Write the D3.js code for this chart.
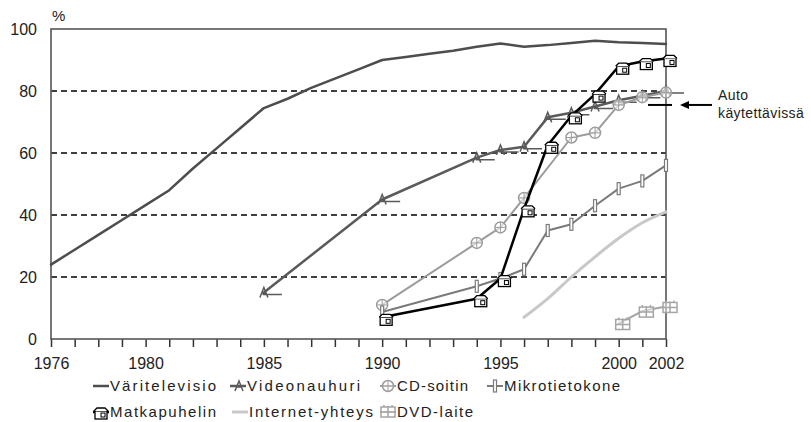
<!DOCTYPE html>
<html>
<head>
<meta charset="utf-8">
<title>Kestokulutustavarat kotitalouksissa</title>
<script src="https://cdn.jsdelivr.net/npm/d3@7"></script>
<style>
body { margin: 0; background: #fff; }
svg { font-family: "Liberation Sans", Arial, sans-serif; }
.grid line { stroke: #000; stroke-width: 1.3; stroke-dasharray: 6,4; }
.series { fill: none; stroke-linejoin: round; stroke-linecap: round; }
.axis text { fill: #222; font-size: 16px; }
.legend text { fill: #222; font-size: 15px; }
</style>
</head>
<body>
<div id="chart"></div>
<script>
// data (% of households)
var xLabelYears = [1976, 1980, 1985, 1990, 1995, 2000, 2002];
var yTicks = [0, 20, 40, 60, 80, 100];

var tvYears = d3.range(1976, 2003);
var tvValues = [24, 28.8, 33.6, 38.4, 43.2, 48, 55, 61.5, 68, 74.5, 77.5, 81, 84, 87, 90, 91, 92, 93, 94.3, 95.3, 94.3, 94.8, 95.5, 96.2, 95.7, 95.5, 95.2];
var videoYears = [1985, 1990, 1994, 1995, 1996, 1997, 1998, 1999, 2000, 2001, 2002];
var videoValues = [15, 45, 58.5, 61, 62, 71.5, 73, 75, 77, 78.5, 80];
var cdYears = [1990, 1994, 1995, 1996, 1998, 1999, 2000, 2001, 2002];
var cdValues = [11, 31, 36, 45.5, 65, 66.5, 75.5, 78, 79.5];
var pcYears = [1990, 1994, 1995, 1996, 1997, 1998, 1999, 2000, 2001, 2002];
var pcValues = [8.7, 17, 19.5, 22.5, 35, 37, 43, 48.5, 51, 56];
var mobileYears = [1990, 1994, 1995, 1996, 1997, 1998, 1999, 2000, 2001, 2002];
var mobileValues = [7, 13, 19.5, 42, 62.5, 72, 79, 88, 89.5, 90.5];
var netYears = [1996, 1997, 1998, 1999, 2000, 2001, 2002];
var netValues = [7, 13, 20, 26.5, 32.5, 37.5, 41];
var dvdYears = [2000, 2001, 2002];
var dvdValues = [5, 9, 10.5];
var carYear = 2002, carValue = 75.5;
var carLabel = ["Auto", "käytettävissä"];

var seriesNames = ["Väritelevisio", "Videonauhuri", "CD-soitin", "Mikrotietokone", "Matkapuhelin", "Internet-yhteys", "DVD-laite"];

function zip(xs, vs) { return xs.map(function(d, i) { return {year: d, value: vs[i]}; }); }

var series = [
    {name: seriesNames[0], data: zip(tvYears, tvValues), color: "#4d4d4d", width: 2.5, marker: null},
    {name: seriesNames[1], data: zip(videoYears, videoValues), color: "#5a5a5a", width: 2.5, marker: "video"},
    {name: seriesNames[2], data: zip(cdYears, cdValues), color: "#9c9c9c", width: 2, marker: "cd"},
    {name: seriesNames[3], data: zip(pcYears, pcValues), color: "#7a7a7a", width: 2, marker: "pc"},
    {name: seriesNames[4], data: zip(mobileYears, mobileValues), color: "#000", width: 2.5, marker: "mobile"},
    {name: seriesNames[5], data: zip(netYears, netValues), color: "#c8c8c8", width: 3, marker: null, smooth: true},
    {name: seriesNames[6], data: zip(dvdYears, dvdValues), color: "#a5a5a5", width: 2, marker: "dvd"}
];

var W = 811, H = 422;
var plotLeft = 51, plotRight = 666, plotTop = 29, plotBottom = 339;

var x = d3.scaleLinear().domain([1976, 2002]).range([plotLeft, plotRight]);
var y = d3.scaleLinear().domain([0, 100]).range([plotBottom, plotTop]);

var svg = d3.select("#chart").append("svg")
    .attr("width", W).attr("height", H);

// dashed gridlines
svg.append("g").attr("class", "grid")
    .selectAll("line").data(yTicks.filter(function(d) { return d > 0 && d < 100; }))
    .enter().append("line")
    .attr("x1", plotLeft).attr("x2", plotRight)
    .attr("y1", function(d) { return y(d); }).attr("y2", function(d) { return y(d); });

// axes
var xAxis = d3.axisBottom(x)
    .tickValues(d3.range(1976, 2003))
    .tickSize(8).tickPadding(11)
    .tickFormat(function(d) { return xLabelYears.indexOf(d) >= 0 ? d : ""; });
var gx = svg.append("g").attr("class", "axis")
    .attr("transform", "translate(0," + plotBottom + ")").call(xAxis);
gx.select(".domain").remove();
gx.selectAll(".tick line").attr("stroke", "#333").attr("stroke-width", 1.5);

var yAxis = d3.axisLeft(y).tickValues(yTicks).tickSize(0).tickPadding(14);
var gy = svg.append("g").attr("class", "axis")
    .attr("transform", "translate(" + plotLeft + ",0)").call(yAxis);
gy.select(".domain").remove();

svg.append("text").attr("x", 52).attr("y", 21)
    .style("font-size", "15px").attr("fill", "#222").text("%");

// frame
svg.append("rect").attr("x", plotLeft).attr("y", plotTop)
    .attr("width", plotRight - plotLeft).attr("height", plotBottom - plotTop)
    .attr("fill", "none").attr("stroke", "#555").attr("stroke-width", 1.6);

// markers
function drawMarker(g, type, color) {
    if (type === "video") {
        g.append("path").attr("d", "M-4,5 L0,-5 L4,5 M-2,1 L2,1 M-1,2 H18")
            .attr("fill", "none").attr("stroke", color).attr("stroke-width", 1.5);
    } else if (type === "cd") {
        g.append("circle").attr("r", 5.5).attr("fill", "rgba(255,255,255,0.6)")
            .attr("stroke", color).attr("stroke-width", 1.5);
        g.append("path").attr("d", "M-5,0 H5 M0,-5 V5").attr("stroke", color).attr("stroke-width", 1);
    } else if (type === "pc") {
        g.append("rect").attr("x", -1.5).attr("y", -6).attr("width", 3).attr("height", 12)
            .attr("fill", "#fff").attr("stroke", color).attr("stroke-width", 1.2);
    } else if (type === "mobile") {
        var p = g.append("g").attr("transform", "translate(4,3)");
        p.append("rect").attr("x", -6).attr("y", -3).attr("width", 12).attr("height", 8)
            .attr("fill", "#fff").attr("stroke", color).attr("stroke-width", 1.3);
        p.append("path").attr("d", "M-7,-3 L-4,-6 H4 L7,-3")
            .attr("fill", "#fff").attr("stroke", color).attr("stroke-width", 1.3);
        p.append("rect").attr("x", 0).attr("y", -1).attr("width", 4).attr("height", 4)
            .attr("fill", "none").attr("stroke", color).attr("stroke-width", 1);
    } else if (type === "dvd") {
        var q = g.append("g").attr("transform", "translate(4,1)");
        q.append("rect").attr("x", -7).attr("y", -5).attr("width", 14).attr("height", 10)
            .attr("fill", "rgba(255,255,255,0.5)").attr("stroke", color).attr("stroke-width", 1.5);
        q.append("path").attr("d", "M0,-6 V5 M-7,0 H7 M-4,-5 V-7 M4,-5 V-7")
            .attr("fill", "none").attr("stroke", color).attr("stroke-width", 1.5);
    }
}

series.forEach(function(s) {
    var line = d3.line()
        .x(function(d) { return x(d.year); })
        .y(function(d) { return y(d.value); })
        .curve(s.smooth ? d3.curveMonotoneX : d3.curveLinear);
    svg.append("path").datum(s.data).attr("class", "series")
        .attr("d", line).attr("stroke", s.color).attr("stroke-width", s.width);
    if (s.marker) {
        svg.append("g").selectAll("g").data(s.data).enter().append("g")
            .attr("transform", function(d) { return "translate(" + x(d.year) + "," + y(d.value) + ")"; })
            .each(function() { drawMarker(d3.select(this), s.marker, s.color); });
    }
});

// car availability note
var ay = y(carValue);
svg.append("line")
    .attr("x1", x(carYear) - 18).attr("x2", x(carYear) + 6)
    .attr("y1", ay).attr("y2", ay)
    .attr("stroke", "#000").attr("stroke-width", 2);
svg.append("line").attr("x1", 686).attr("x2", 712).attr("y1", ay).attr("y2", ay)
    .attr("stroke", "#000").attr("stroke-width", 2);
svg.append("path").attr("d", "M680," + ay + " L689," + (ay - 4) + " L689," + (ay + 4) + " Z")
    .attr("fill", "#000");
svg.append("g").selectAll("text").data(carLabel).enter().append("text")
    .attr("x", 718).attr("y", function(d, i) { return 100 + i * 18; })
    .style("font-size", "14px").style("letter-spacing", "0.4px").attr("fill", "#222")
    .text(function(d) { return d; });

// legend
var legendPos = [
    {x: 93, y: 386, w: 106}, {x: 230, y: 386, w: 113}, {x: 380, y: 386, w: 71}, {x: 487, y: 386, w: 116},
    {x: 93, y: 412, w: 106}, {x: 232, y: 412, w: 124}, {x: 380, y: 412, w: 76}
];
var legend = svg.append("g").attr("class", "legend");
series.forEach(function(s, i) {
    var p = legendPos[i];
    var g = legend.append("g").attr("transform", "translate(" + p.x + "," + p.y + ")");
    g.append("line").attr("x1", 0).attr("x2", 16).attr("y1", 0).attr("y2", 0)
        .attr("stroke", s.color).attr("stroke-width", s.width);
    if (s.marker) {
        var m = g.append("g").attr("transform", s.marker === "mobile" || s.marker === "dvd" ? "translate(4,-1)" : "translate(8,0)");
        if (s.marker === "video") {
            m.append("path").attr("d", "M-3,5 L1,-5 L5,5 M-1,1 L3,1")
                .attr("fill", "none").attr("stroke", s.color).attr("stroke-width", 1.5);
        } else {
            drawMarker(m, s.marker, s.color);
        }
    }
    g.append("text").attr("x", 17).attr("y", 5)
        .attr("textLength", p.w).attr("lengthAdjust", "spacing")
        .text(s.name);
});
</script>
</body>
</html>
